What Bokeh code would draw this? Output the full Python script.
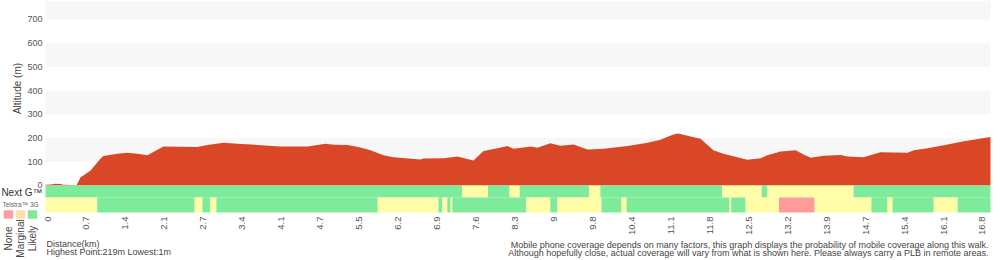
import math
from bokeh.plotting import figure
from bokeh.models import Range1d, BoxAnnotation, Label, ColumnDataSource
from bokeh.core.properties import value
from bokeh.embed import file_html
from bokeh.resources import INLINE

# ---------------- data ----------------
dist_km = [0, 0.09, 0.18, 0.27, 0.32, 0.56, 0.63, 0.68, 0.81, 0.99, 1.04, 1.29, 1.47, 1.65,
           1.83, 2.12, 2.73, 2.91, 3.20, 3.45, 3.81, 4.22, 4.71, 5.03, 5.18, 5.43, 5.66,
           5.84, 6.07, 6.25, 6.74, 6.79, 7.15, 7.40, 7.69, 7.87, 8.12, 8.30, 8.41, 8.72,
           8.84, 9.07, 9.25, 9.49, 9.74, 10.03, 10.46, 10.82, 11.05, 11.28, 11.37, 11.59,
           11.77, 12.00, 12.18, 12.43, 12.61, 12.85, 12.97, 13.21, 13.48, 13.62, 13.75,
           13.98, 14.29, 14.41, 14.70, 15.00, 15.49, 15.60, 15.85, 16.21, 16.50, 16.98]
elev_m = [3, 4, 7, 6, 3, 2, 35, 42, 63, 114, 124, 134, 138, 134,
          127, 164, 162, 171, 180, 176, 171, 164, 164, 176, 172, 171, 160,
          148, 127, 119, 110, 114, 115, 122, 105, 145, 157, 166, 155, 164,
          159, 178, 167, 173, 152, 155, 166, 180, 193, 215, 219, 207,
          197, 148, 134, 119, 108, 115, 127, 143, 148, 131, 117,
          125, 129, 122, 119, 140, 138, 148, 157, 173, 186, 204]

total_km = 16.98

nextg_breaks = [0, 7.49, 7.95, 8.34, 8.52, 9.77, 9.97, 12.16, 12.87, 12.97, 14.52, 16.98]
nextg_levels = ["Likely", "Marginal", "Likely", "Marginal", "Likely", "Marginal",
                "Likely", "Marginal", "Likely", "Marginal", "Likely"]

g3_breaks = [0, 0.93, 2.68, 2.82, 2.96, 3.07, 5.97, 7.06, 7.13, 7.22, 7.28, 7.31, 8.64,
             9.07, 9.20, 9.99, 10.35, 10.44, 12.29, 12.32, 12.58, 13.18, 13.82, 14.84,
             15.13, 15.22, 15.96, 16.39, 16.98]
g3_levels = ["Marginal", "Likely", "Marginal", "Likely", "Marginal", "Likely", "Marginal",
             "Likely", "Marginal", "Likely", "Marginal", "Likely", "Marginal", "Likely",
             "Marginal", "Likely", "Marginal", "Likely", "Marginal", "Likely", "Marginal",
             "None", "Marginal", "Likely", "Marginal", "Likely", "Marginal", "Likely"]

tick_labels = ["0", "0.7", "1.4", "2.1", "2.7", "3.4", "4.1", "4.7", "5.5", "6.2", "6.9",
               "7.6", "8.3", "9", "9.8", "10.4", "11.1", "11.8", "12.5", "13.2", "13.9",
               "14.7", "15.4", "16.1", "16.8"]
tick_step_km = 0.7
alt_ticks = [0, 100, 200, 300, 400, 500, 600, 700]

legend_levels = ["None", "Marginal", "Likely"]

# ---------------- styling / layout ----------------
FONT = "Liberation Sans"
bar_colors = {"Likely": "#7DEB9A", "Marginal": "#FFFDA6", "None": "#FF9B98"}
legend_colors = {"Likely": "#80E996", "Marginal": "#FFE2A8", "None": "#FF9E9E"}
legend_borders = {"Likely": "#6CD886", "Marginal": "#F2CF92", "None": "#F08A8A"}
ELEV_COLOR = "#D94727"

W, H = 1000, 260
PL, PR, PT, PB = 45, 990, 0, 212          # chart area edges in page pixels
Y_BOTTOM = -114                           # data value at the bottom of the coverage rows
ROW_SPLIT = -50.6
Y_TOP = 780

KM_PER_PX = total_km / (PR - PL)
M_PER_PX = (Y_TOP - Y_BOTTOM) / (PB - PT)

def dx(px):   # page x pixel -> data x
    return (px - PL) * KM_PER_PX

def dy(py):   # page y pixel -> data y
    return Y_BOTTOM + (PB - py) * M_PER_PX

p = figure(width=W, height=H, output_backend="svg", toolbar_location=None,
           x_range=Range1d(dx(0), dx(W)), y_range=Range1d(dy(H), dy(0)),
           x_axis_location=None, y_axis_location=None,
           min_border_left=0, min_border_right=0, min_border_top=0, min_border_bottom=0)
p.outline_line_color = None
p.grid.visible = False
p.background_fill_color = "white"
p.border_fill_color = "white"

# gray bands
for lo in alt_ticks[1::2]:
    p.add_layout(BoxAnnotation(left=0, right=total_km, bottom=lo, top=min(lo + 100, Y_TOP),
                               fill_color="#F7F7F7", fill_alpha=1, line_color=None,
                               level="underlay"))

# elevation
p.varea(x=dist_km, y1=[0] * len(dist_km), y2=elev_m, fill_color=ELEV_COLOR)

# coverage rows
def row(breaks, levels, bottom, top):
    src = ColumnDataSource(dict(
        left=breaks[:-1], right=breaks[1:],
        color=[bar_colors[l] for l in levels]))
    p.quad(left="left", right="right", bottom=bottom, top=top, fill_color="color",
           line_color=None, source=src)

row(nextg_breaks, nextg_levels, ROW_SPLIT, 0)
row(g3_breaks, g3_levels, Y_BOTTOM, ROW_SPLIT)

# x tick labels (distance)
tick_pos = [i * tick_step_km for i in range(len(tick_labels))]
p.text(x=tick_pos, y=[dy(216)] * len(tick_pos), text=tick_labels, angle=math.pi / 2,
       x_offset=2, text_align="right", text_baseline="middle",
       text_font=value(FONT), text_font_size="9.5px", text_color="#555555")

# y tick labels (altitude)
p.text(x=[dx(42)] * len(alt_ticks), y=alt_ticks, text=[str(t) for t in alt_ticks],
       text_align="right", text_baseline="middle",
       text_font=value(FONT), text_font_size="9px", text_color="#555555")

def lab(text, px, py, size, color="#444444", align="left", angle=0, baseline="middle"):
    p.add_layout(Label(text=text, x=px, y=H - py, x_units="screen", y_units="screen",
                       text_font=FONT, text_font_size=size, text_color=color,
                       text_align=align, text_baseline=baseline, angle=angle))

lab("Altitude (m)", 17, 88, "10px", "#444444", "center", math.pi / 2)
lab("Next G\u2122", 42, 192, "10px", "#333333", "right")
lab("Telstra\u2122 3G", 20, 204, "6.5px", "#666666", "center")

for i, lvl in enumerate(legend_levels):
    cx = 8 + 12 * i
    p.add_layout(BoxAnnotation(left=cx - 4.5, right=cx + 4.5, top=H - 210, bottom=H - 218,
                               left_units="screen", right_units="screen",
                               top_units="screen", bottom_units="screen",
                               fill_color=legend_colors[lvl], fill_alpha=1,
                               line_color=legend_borders[lvl], line_width=1))
    lab(lvl, cx, 238, "10px", "#444444", "center", math.pi / 2)

lab("Distance(km)", 46, 243, "9px", "#444444")
lab("Highest Point:219m Lowest:1m", 46, 251.5, "9px", "#444444")
lab("Mobile phone coverage depends on many factors, this graph displays the probability of mobile coverage along this walk.",
    988, 244, "9px", "#444444", "right")
lab("Although hopefully close, actual coverage will vary from what is shown here. Please always carry a PLB in remote areas.",
    988, 252.5, "9px", "#444444", "right")

open("out.html", "w").write(file_html(p, INLINE))
